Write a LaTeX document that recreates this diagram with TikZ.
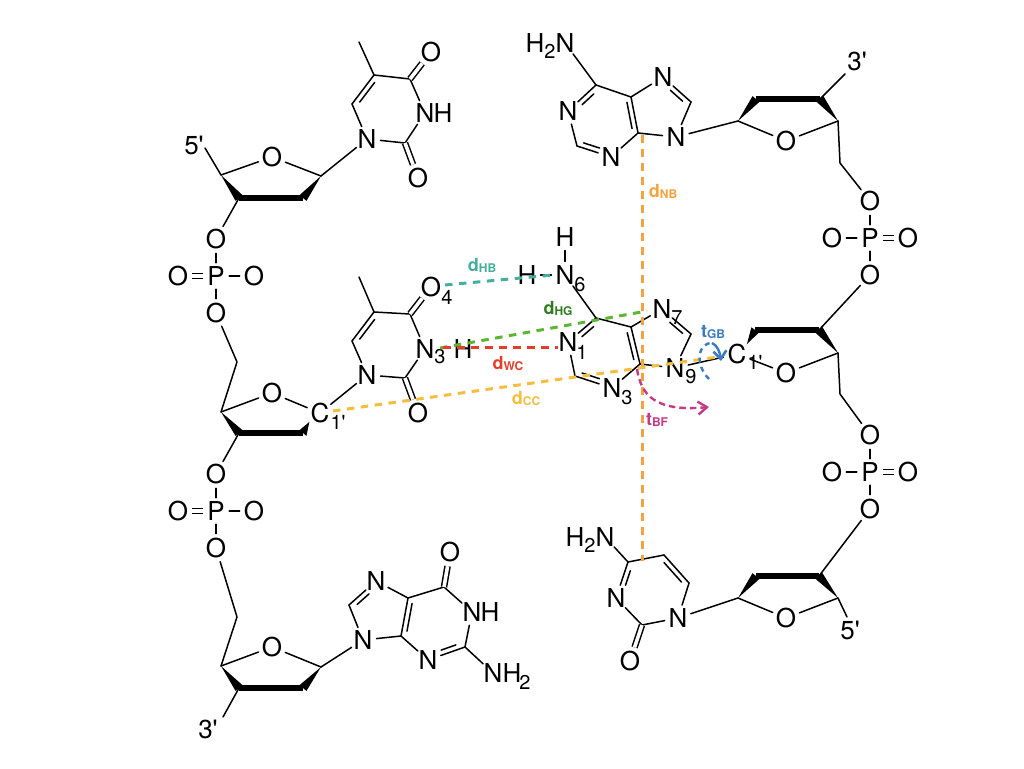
\documentclass[tikz,border=0pt]{standalone}
\usepackage{fontspec}
\usetikzlibrary{calc,arrows.meta}
\newfontfamily\atomfont{TeX Gyre Heros}
\definecolor{nbcol}{HTML}{F4A23E}
\definecolor{hbcol}{HTML}{45AE9E}
\definecolor{hgcol}{HTML}{5DB632}
\definecolor{hgtxt}{HTML}{2F7D20}
\definecolor{wccol}{HTML}{E63C2A}
\definecolor{cccol}{HTML}{F3BD3D}
\definecolor{gbcol}{HTML}{3B7CC0}
\definecolor{bfcol}{HTML}{C33B86}
\tikzset{
	atom/.style={circle,minimum size=26pt,inner sep=0pt,font=\atomfont\fontsize{26}{26}\selectfont},
	subnum/.style={inner sep=0pt,font=\atomfont\fontsize{20}{20}\selectfont},
	dlab/.style={inner sep=0pt,font=\atomfont\bfseries\fontsize{18}{18}\selectfont},
	bond/.style={line width=1.5pt,line cap=round,line join=round},
	dbl/.style={line width=1.5pt,double,double distance=3.6pt},
	thickbond/.style={line width=5.5pt},
	gap/.style={line width=3pt,dash pattern=on 7.5pt off 6.5pt}
}
\newcommand{\ringbond}[5]{
	\draw[bond] (#1) -- (#2);
	\draw[bond] ($(#1)!#4!(#2)!#3!90:(#2)$) -- ($(#1)!#5!(#2)!#3!90:(#2)$);
}
\newcommand{\wedgebond}[2]{
	\fill (#1) -- ($(#2)!4.5pt!90:(#1)$) -- ($(#2)!4.5pt!-90:(#1)$) -- cycle;
}
\newcommand{\dname}[2]{#1{\fontsize{12}{12}\selectfont\raisebox{-1pt}{#2}}}
\begin{document}
\begin{tikzpicture}[x=1pt,y=-1pt]
	\useasboundingbox (0,0) rectangle (1024,768);
	
	\foreach \nm/\xx/\yy in {t1n1/367/139,t1n3/425/113,t2n1/367/375,t2n3/425/349,gn9/363/640,gn7/376/581,gn1/472/612,gn3/428/660,gn2/493/673,a1n9/676/137,a1n7/663/77,a1n6/565/43,a1n1/568/111,a1n3/611/157,a2n9/675/368,a2n7/662/309,a2n6/565/275,a2n1/568/342,a2n3/612/388,cn1/678/618,cn3/616/598,cn4/605/537}{
		\node[atom] (\nm) at (\xx,\yy) {N};
	}
	\foreach \nm/\xx/\yy in {t1o4/431/52,t1o2/418/178,t2o4/431/287,t2o2/418/413,go6/450/552,co2/630/661,s1o/272/157,s2o/272/393,s3o/272/647,s4o/786/141,s5o/786/373,s6o/786/618}{
		\node[atom] (\nm) at (\xx,\yy) {O};
	}
	\foreach \nm/\xx/\yy in {t1h3/443/113,t2h3/463/349,gh1/490/612,gh2/512/673,a1h6/535/43,a2hl/527/275,a2ht/565/237,ch4/575/537}{
		\node[atom] (\nm) at (\xx,\yy) {H};
	}
	\node[atom] (s2a) at (320,413) {C};
	\node[atom] (s5a) at (737,354) {C};
	\foreach \nm/\xx/\yy/\tx in {t2sub3/440/357/3,t2sub4/447/297/4,s2sub/338/422/1',s5sub/755/362/1',a2sub6/580/285/6,a2sub1/582/352/1,a2sub3/627/398/3,a2sub7/677/318/7,a2sub9/691/377/9,gsub2/525/682/2,a1sub2/550/51/2,csub2/590/545/2}{
		\node[subnum] (\nm) at (\xx,\yy) {\tx};
	}
	\foreach \nm/\xx/\yy in {t1c2/405/143,t1c4/410/79,t1c5/374/75,t1c6/352/104,t1me/359/42,t2c2/405/378,t2c4/410/314,t2c5/374/312,t2c6/352/341,t2me/359/277,gc8/349/605,gc5/408/598,gc6/444/587,gc2/465/647,gc4/401/636,a1c8/691/102,a1c5/631/97,a1c6/596/85,a1c2/577/146,a1c4/638/133,a2c8/691/334,a2c5/631/327,a2c6/596/318,a2c2/575/376,a2c4/640/364,cc6/689/583,cc5/664/555,cc4/628/562,cc2/642/625,s1a/321/176,s1b/303/198,s1c/239/198,s1d/221/175,s2b/303/433,s2c/239/433,s2d/221/412,s3a/321/667,s3b/303/688,s3c/239/688,s3d/221/666,s4a/738/121,s4b/756/99,s4c/820/99,s4d/838/121,s5b/755/330,s5c/819/330,s5d/838/353,s6a/738/598,s6b/756/576,s6c/819/576,s6d/838/598,hm1/237/362,hm2/237/617,hm3/840/163,hm4/840/394,end5a/205/148,end3a/223/717,end3b/845/74,end5b/847/617}{
		\coordinate (\nm) at (\xx,\yy);
	}
	\node[atom] (lab5a) at (194,145) {5'};
	\node[atom] (lab3a) at (208,729) {3'};
	\node[atom] (lab3b) at (857,61) {3'};
	\node[atom] (lab5b) at (850,630) {5'};
	
	\foreach \pp/\xx/\yy/\ls/\rs in {p1/216/276/dbl/bond,p2/216/511/dbl/bond,p3/870/238/bond/dbl,p4/870/472/bond/dbl}{
		\node[atom] (\pp) at (\xx,\yy) {P};
		\node[atom] (\pp u) at (\xx,\yy-37) {O};
		\node[atom] (\pp d) at (\xx,\yy+37) {O};
		\node[atom] (\pp l) at (\xx-38,\yy) {O};
		\node[atom] (\pp r) at (\xx+38,\yy) {O};
		\draw[bond] (\pp) -- (\pp u);
		\draw[bond] (\pp) -- (\pp d);
		\draw[\ls] (\pp) -- (\pp l);
		\draw[\rs] (\pp) -- (\pp r);
	}
	
	\foreach \pre in {s1,s2,s3,s4,s5,s6}{
		\draw[bond] (\pre a) -- (\pre o);
		\draw[bond] (\pre o) -- (\pre d);
		\draw[thickbond] (\pre b) -- (\pre c);
		\wedgebond{\pre a}{\pre b}
		\wedgebond{\pre d}{\pre c}
	}
	
	\foreach \pre in {t1,t2}{
		\foreach \ua/\ub in {me/c5,c5/c4,c4/n3,n3/c2,c2/n1,n1/c6}{
			\draw[bond] (\pre\ua) -- (\pre\ub);
		}
		\draw[dbl] (\pre c4) -- (\pre o4);
		\draw[dbl] (\pre c2) -- (\pre o2);
		\ringbond{\pre c6}{\pre c5}{-5pt}{.17}{.85}
	}
	\foreach \pre in {a1,a2}{
		\foreach \ua/\ub in {c4/n9,n9/c8,n7/c5,c5/c6,n1/c2,n3/c4,c6/n6}{
			\draw[bond] (\pre\ua) -- (\pre\ub);
		}
		\ringbond{\pre c8}{\pre n7}{5pt}{.18}{.62}
		\ringbond{\pre c5}{\pre c4}{-5pt}{.12}{.85}
		\ringbond{\pre c6}{\pre n1}{5pt}{.2}{.62}
		\ringbond{\pre c2}{\pre n3}{5pt}{.15}{.62}
	}
	\foreach \ua/\ub in {gn9/gc8,gn7/gc5,gc5/gc6,gc6/gn1,gn1/gc2,gn3/gc4,gc4/gn9,gc2/gn2,cn1/cc6,cc5/cc4,cn3/cc2,cc2/cn1,cc4/cn4,a2hl/a2n6,a2ht/a2n6}{
		\draw[bond] (\ua) -- (\ub);
	}
	\ringbond{gc8}{gn7}{-5pt}{.18}{.62}
	\ringbond{gc5}{gc4}{5pt}{.12}{.85}
	\ringbond{gc2}{gn3}{-5pt}{.2}{.6}
	\ringbond{cc6}{cc5}{5pt}{.15}{.85}
	\ringbond{cc4}{cn3}{5pt}{.2}{.6}
	\draw[dbl] (gc6) -- (go6);
	\draw[dbl] (cc2) -- (co2);
	
	\foreach \ua/\ub in {t1n1/s1a,t2n1/s2a,gn9/s3a,a1n9/s4a,a2n9/s5a,cn1/s6a,s1c/p1u,s2c/p2u,p3d/s5c,p4d/s6c,s1d/end5a,s3c/end3a,s4c/end3b,s6d/end5b}{
		\draw[bond] (\ua) -- (\ub);
	}
	\draw[bond] (p1d) -- (hm1) -- (s2d);
	\draw[bond] (p2d) -- (hm2) -- (s3d);
	\draw[bond] (s4d) -- (hm3) -- (p3u);
	\draw[bond] (s5d) -- (hm4) -- (p4u);
	
	\coordinate (nbtop) at (642.5,135);
	\coordinate (nbbot) at (642.5,561);
	\coordinate (hbl) at (445,285);
	\coordinate (hbr) at (553,275);
	\coordinate (hgl) at (440,348);
	\coordinate (hgr) at (647,311);
	\coordinate (wcl) at (443,347);
	\coordinate (wcr) at (558,347);
	\coordinate (ccl) at (333,411);
	\coordinate (ccr) at (718,357);
	\coordinate (gbs) at (709,379);
	\coordinate (gbm) at (712,343);
	\coordinate (gbe) at (721,361);
	\coordinate (bfs) at (637,369);
	\coordinate (bfe) at (709,407);
	
	\draw[gap,nbcol] (nbtop) -- (nbbot);
	\draw[gap,hbcol] (hbl) -- (hbr);
	\draw[gap,hgcol] (hgl) -- (hgr);
	\draw[gap,wccol] (wcl) -- (wcr);
	\draw[gap,cccol] (ccl) -- (ccr);
	\draw[gbcol,line width=2.4pt,dash pattern=on 5pt off 4.5pt] (gbs) .. controls (695,365) and (697,343) .. (gbm);
	\draw[gbcol,line width=2.4pt,-{Straight Barb[length=8pt,width=13pt,line width=2.6pt]}] (gbm) .. controls (717,345) and (720,352) .. (gbe);
	\draw[bfcol,line width=2.4pt,dash pattern=on 6.5pt off 4pt,-{Straight Barb[length=9pt,width=13pt,line width=2.4pt]}] (bfs) .. controls (641,395) and (655,412) .. (bfe);
	
	\node[dlab,text=nbcol] (nblab) at (663,191) {\dname{d}{NB}};
	\node[dlab,text=hbcol] (hblab) at (482,265) {\dname{d}{HB}};
	\node[dlab,text=hgtxt] (hglab) at (558,309) {\dname{d}{HG}};
	\node[dlab,text=wccol] (wclab) at (508,364) {\dname{d}{WC}};
	\node[dlab,text=cccol] (cclab) at (526,399) {\dname{d}{CC}};
	\node[dlab,text=gbcol] (gblab) at (713,332) {\dname{t}{GB}};
	\node[dlab,text=bfcol] (bflab) at (657,420) {\dname{t}{BF}};
\end{tikzpicture}
\end{document}
